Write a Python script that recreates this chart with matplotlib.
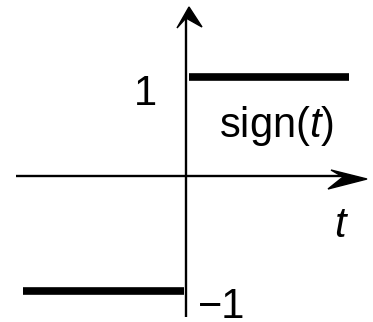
import matplotlib
matplotlib.use("Agg")
import matplotlib.pyplot as plt
import matplotlib.transforms as mtransforms
from matplotlib.patches import Polygon

plt.rcParams['font.family'] = ['Liberation Sans', 'DejaVu Sans']
plt.rcParams['mathtext.fontset'] = 'custom'
plt.rcParams['mathtext.rm'] = 'Liberation Sans'
plt.rcParams['mathtext.it'] = 'Liberation Sans:italic'

# sign(t): two flat pieces
t_neg = [-1.0, -0.012]
v_neg = [-1, -1]
t_pos = [0.018, 1.0]
v_pos = [1, 1]
tick_labels = ["1", "\u22121"]

W, H = 373, 322
fig = plt.figure(figsize=(W / 100, H / 100), dpi=100)
ax = fig.add_axes([0, 0, 1, 1])
ax.set_xlim(-1.141, 1.147)
ax.set_ylim(-1.290, 1.720)
ax.axis("off")

# pixel coords, origin top-left
px = mtransforms.Affine2D().scale(1, -1).translate(0, H)

# axes lines
ax.plot([16, 350], [176, 176], color="black", lw=1.7, transform=px, solid_capstyle="butt")
ax.plot([186, 186], [317, 15], color="black", lw=1.7, transform=px, solid_capstyle="butt")
ax.add_patch(Polygon([(189, 7), (177, 28), (186, 18), (202, 27)], closed=True,
                     color="black", transform=px))
ax.add_patch(Polygon([(367, 179), (331, 170), (343, 177), (328, 189)], closed=True,
                     color="black", transform=px))

# the function
ax.plot(t_neg, v_neg, color="black", lw=5.5, solid_capstyle="butt")
ax.plot(t_pos, v_pos, color="black", lw=5.5, solid_capstyle="butt")

fs = 30
ax.text(145, 105, tick_labels[0], fontsize=fs, ha="center", va="baseline", transform=px)
ax.text(198, 318, tick_labels[1], fontsize=fs, ha="left", va="baseline", transform=px)
ax.text(219, 137, "sign($t$)", fontsize=fs, ha="left", va="baseline", transform=px)
ax.text(334, 237, "$t$", fontsize=fs, ha="left", va="baseline", transform=px)

fig.savefig("out.png", dpi=100)
